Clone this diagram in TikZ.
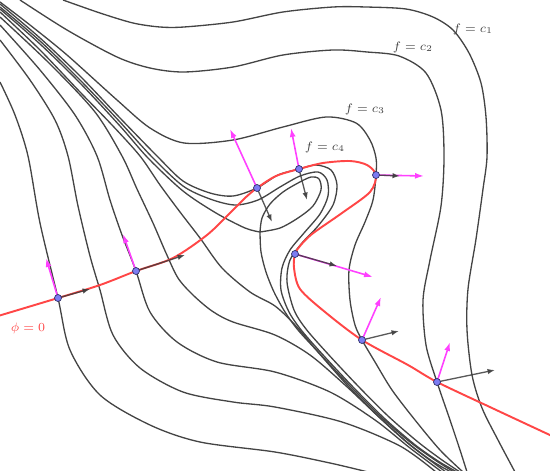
\documentclass[tikz,border=0pt]{standalone}
\usepackage{tikz}
\usetikzlibrary{arrows.meta}
\definecolor{Curve}{HTML}{444444}
\definecolor{Phi}{HTML}{FF4646}
\definecolor{Grad}{HTML}{FF40FF}
\definecolor{Flow}{HTML}{3C3C3C}
\definecolor{Dot}{HTML}{7C7CF2}
\definecolor{DotRim}{HTML}{30306A}
\tikzset{
  level/.style={draw=Curve,line width=.75pt},
  zero/.style={draw=Phi,line width=1.1pt},
  grad/.style={-{Latex[length=1.8mm,width=1.2mm]},draw=Grad,line width=.9pt},
  flow/.style={-{Latex[length=1.5mm,width=1.1mm]},draw=Flow,line width=.75pt,opacity=.85},
  dotnode/.style={circle,fill=Dot,draw=DotRim,line width=.4pt,minimum size=1.4mm,inner sep=0pt},
  lab/.style={font=\scriptsize,text=Curve,inner sep=1pt}
}
\begin{document}
\begin{tikzpicture}[x=0.02cm,y=-0.02cm]
  \useasboundingbox (0,0) rectangle (550,470);
  % points on phi = 0
  \coordinate (A) at (58,298);  \coordinate (B) at (136,271);
  \coordinate (C) at (257,188); \coordinate (D) at (299,169);
  \coordinate (E) at (376,175); \coordinate (G) at (295,254);
  \coordinate (H) at (362,340); \coordinate (F) at (437,382);
  \coordinate (S) at (260,232);
  % level sets, lower left family
  \draw[level] plot[smooth] coordinates {(0,82) (15,115) (28,156) (40,223) (A) (70,350) (100,395) (150,425) (200,442) (275,452) (330,463) (368,472)};
  \draw[level] plot[smooth] coordinates {(0,40) (30,80) (55,120) (68,156) (78,206) (90,256) (100,290) (113,335) (140,368) (183,392) (233,402) (275,407) (342,422) (400,446) (436,472)};
  \draw[level] plot[smooth] coordinates {(0,25) (40,70) (75,115) (97,156) (110,200) (122,235) (B) (150,312) (177,342) (217,362) (275,372) (330,392) (375,420) (410,448) (442,472)};
  \draw[level] plot[smooth] coordinates {(0,17) (50,64) (95,112) (122,156) (137,189) (153,223) (166,253) (178,278) (193,295) (212,311) (233,322) (275,335) (310,355) (345,385) (380,418) (410,445) (446,472)};
  \draw[level] plot[smooth] coordinates {(0,12) (40,50) (80,92) (112,125) (140,156) (160,185) (180,212) (200,238) (222,268) (250,292) (275,306) (296,326) (318,352) (348,386) (378,416) (408,443) (432,461) (451,472)};
  % separatrix through the saddle
  \draw[level] plot[smooth] coordinates {(0,9) (40,44) (80,83) (120,126) (148,158) (183,191) (216,213) (245,228) (S)};
  \draw[level] plot[smooth] coordinates {(S) (261,252) (266,272) (274,292) (285,312) (298,330) (320,354) (350,386) (380,416) (410,442) (435,460) (454,472)};
  \draw[level] plot[smooth] coordinates {(S) (262,218) (270,204) (283,192) (298,183) (311,177) (319,179) (321,190) (313,206) (298,218) (280,228) (S)};
  % level sets round the peak
  \draw[level] plot[smooth] coordinates {(0,7) (40,41) (80,80) (120,122) (152,157) (183,186) (210,199) (235,205) (258,200) (280,187) (300,176) (318,172) (327,180) (328,196) (320,214) (304,233) (290,250) (282,268) (281,290) (289,312) (302,331) (324,356) (354,388) (384,418) (414,444) (438,461) (457,472)};
  \draw[level] plot[smooth] coordinates {(0,4) (40,38) (80,76) (120,118) (157,156) (183,181) (210,193) (233,196) (C) (278,175) (D) (316,165) (331,170) (337,185) (333,205) (318,226) (302,243) (290,260) (287,282) (294,310) (306,329) (328,354) (358,386) (388,416) (418,442) (442,460) (460,472)};
  \draw[level] plot[smooth] coordinates {(0,2) (30,25) (67,55) (117,100) (150,128) (184,143) (233,140) (283,127) (326,117) (356,123) (370,140) (376,158) (E) (373,200) (365,222) (355,245) (349,270) (350,300) (355,325) (H) (375,362) (392,390) (415,420) (440,450) (463,472)};
  \draw[level] plot[smooth] coordinates {(20,0) (67,30) (117,57) (150,68) (184,72) (233,67) (283,55) (333,50) (367,52) (399,56) (426,73) (441,110) (444,157) (441,206) (430,260) (423,300) (426,345) (F) (450,420) (460,450) (467,472)};
  \draw[level] plot[smooth] coordinates {(63,0) (100,13) (133,23) (160,27) (184,27) (233,22) (283,12) (333,7) (366,7) (406,9) (433,17) (453,30) (469,53) (481,83) (486,117) (487,157) (483,189) (476,239) (468,289) (467,330) (472,375) (482,408) (498,440) (515,472)};
  \node[lab] (l1) at (473,29) {$f=c_1$};
  \node[lab] (l2) at (413,47) {$f=c_2$};
  \node[lab] (l3) at (365,109) {$f=c_3$};
  \node[lab] (l4) at (325,147) {$f=c_4$};
  % the curve phi = 0
  \draw[zero] plot[smooth] coordinates {(-2,316) (A) (100,285) (B) (173,258) (207,235) (230,213) (245,198) (C) (276,176) (D) (323,163) (350,161) (367,165) (E) (370,192) (342,213) (312,234) (300,246) (G) (294,268) (300,289) (325,312) (H) (408,365) (F) (492,408) (552,436)};
  \node[lab,text=Phi] (phi) at (28,328) {$\phi=0$};
  % vectors
  \coordinate (gA) at (46,258);  \coordinate (fA) at (90,289);
  \coordinate (gB) at (123,234); \coordinate (fB) at (185,255);
  \coordinate (gC) at (230,129); \coordinate (fC) at (272,222);
  \coordinate (gD) at (291,128); \coordinate (fD) at (307,200);
  \coordinate (gE) at (424,176); \coordinate (fE) at (400,176);
  \coordinate (gG) at (373,277); \coordinate (fG) at (337,266);
  \coordinate (gH) at (381,297); \coordinate (fH) at (399,331);
  \coordinate (gF) at (450,342); \coordinate (fF) at (495,370);
  \foreach \p in {A,B,C,D,E,G,H,F}{
    \draw[grad] (\p) -- (g\p);
    \draw[flow] (\p) -- (f\p);
  }
  \foreach \p in {A,B,C,D,E,G,H,F}
    \node[dotnode] (dot\p) at (\p) {};
\end{tikzpicture}
\end{document}
